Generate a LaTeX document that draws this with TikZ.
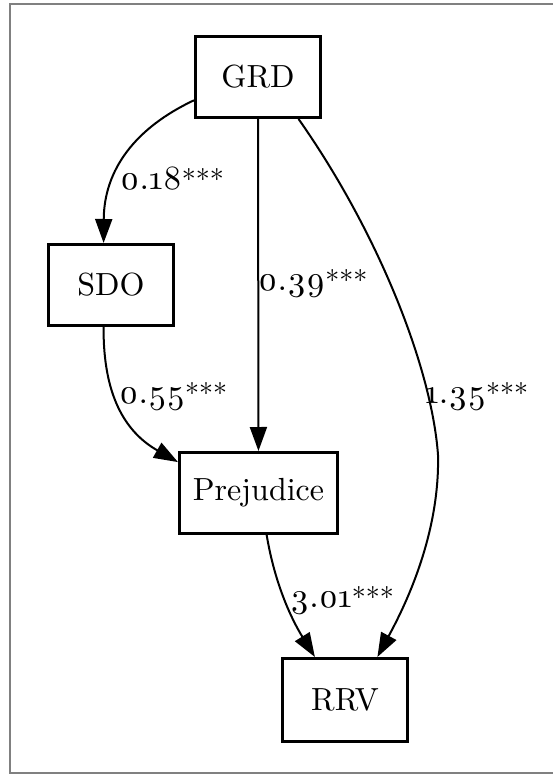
\documentclass[tikz,border=0pt]{standalone}
\usepackage{fontspec}
\setmainfont{lmroman10-regular.otf}[Numbers=OldStyle]
\usetikzlibrary{arrows.meta}
\newcommand\sigstars{{\fontsize{28}{28}\selectfont ***}}

\begin{document}
\begin{tikzpicture}[x=1pt, y=-1pt, box/.style={rectangle, draw, line width=3pt, minimum width=125pt, minimum height=81pt, inner sep=0pt, font=\fontsize{32}{38}\selectfont}, lbl/.style={inner sep=0pt, anchor=base west, font=\fontsize{34}{40}\selectfont}, edge/.style={draw, line width=2pt, -{Triangle[length=24pt,width=17pt]}}]
\useasboundingbox (0,0) rectangle (553,775);
\draw[gray, line width=1.2pt] (553,4) -- (10,4) -- (10,773) -- (553,773);
\node[box] (grd) at (258,77) {GRD};
\node[box] (sdo) at (111,285) {SDO};
\node[box, minimum width=158pt] (prej) at (258.5,493) {Prejudice};
\node[box, minimum height=83pt] (rrv) at (345,700) {RRV};
\node[lbl] (l18) at (120,190) {0.18\sigstars};
\node[lbl] (l39) at (258,290) {0.39\sigstars};
\node[lbl] (l55) at (119,403) {0.55\sigstars};
\node[lbl] (l135) at (425,403) {1.35\sigstars};
\node[lbl] (l301) at (290,607) {3.01\sigstars};
\draw[edge] (grd.200) .. controls (135,128) and (104,170) .. (sdo.100);
\draw[edge] (grd) -- (prej);
\draw[edge] (grd.-46) .. controls (380,235) and (432,370) .. (438,455) .. controls (440,540) and (400,615) .. (rrv.53);
\draw[edge] (sdo.260) .. controls (103,395) and (125,432) .. (prej.159);
\draw[edge] (prej.-79) .. controls (275,585) and (292,620) .. (rrv.125);
\end{tikzpicture}
\end{document}
